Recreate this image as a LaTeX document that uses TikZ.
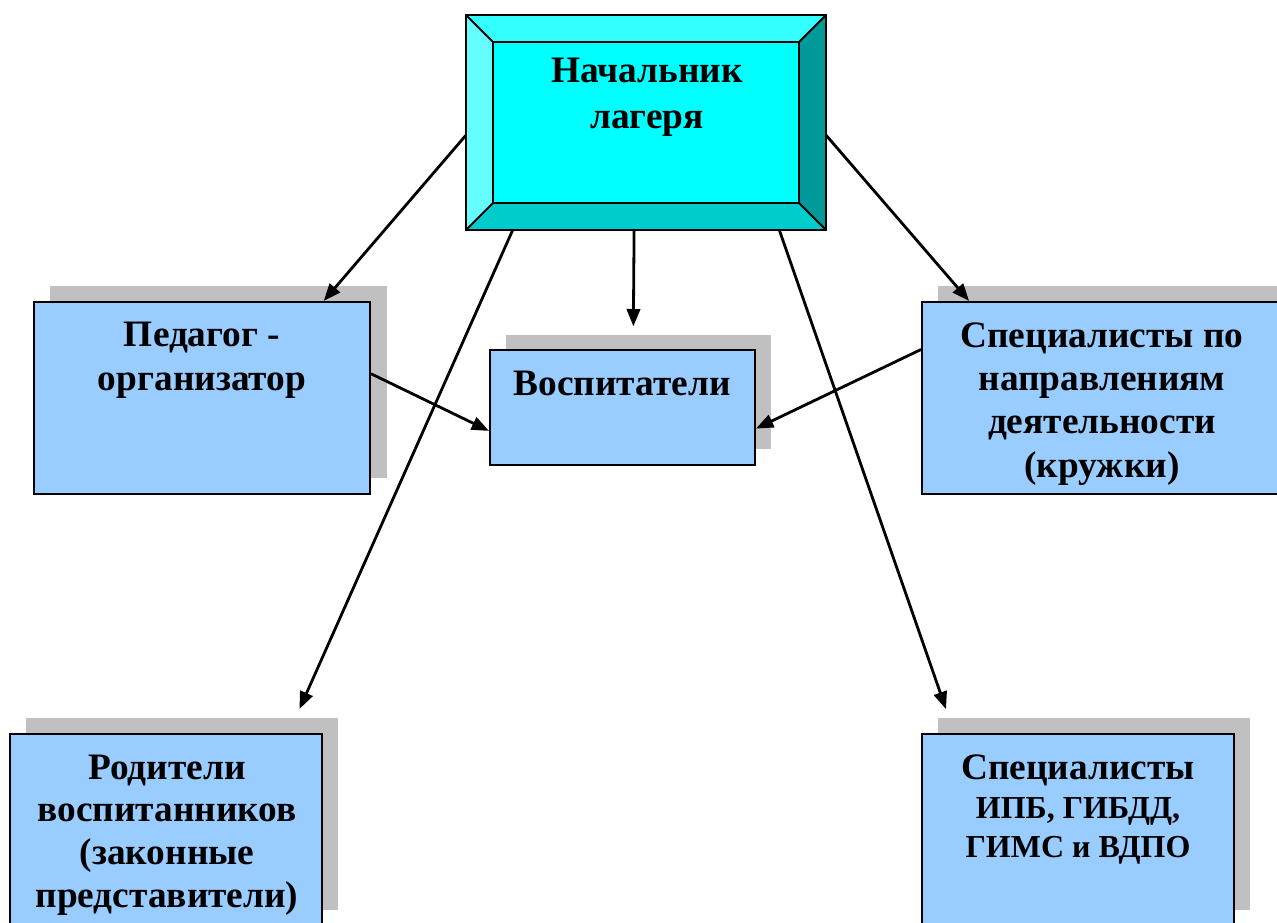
\documentclass[tikz,border=0pt]{standalone}
\usepackage{fontspec}
\setmainfont{Liberation Serif}
\usetikzlibrary{arrows.meta,calc,fit}
\definecolor{cyanin}{HTML}{00FFFF}
\definecolor{bevtop}{HTML}{33FFFF}
\definecolor{bevleft}{HTML}{66FFFF}
\definecolor{bevright}{HTML}{009999}
\definecolor{bevbot}{HTML}{00CCCC}
\definecolor{boxblue}{HTML}{99CCFF}
\definecolor{shadowgray}{HTML}{C0C0C0}
\begin{document}
\begin{tikzpicture}[x=0.75pt,y=-0.75pt,
  box/.style={draw=black,line width=1.5pt,fill=boxblue,inner sep=0pt},
  frame/.style={inner sep=0pt},
  edge/.style={draw=black,line width=1.5pt,line join=miter},
  shade/.style={fill=shadowgray},
  lbl/.style={font=\bfseries\fontsize{28}{32.5}\selectfont,align=center,anchor=base,inner sep=0pt},
  arr/.style={line width=2.1pt,-{Triangle[length=13pt,width=10pt]}}]
\useasboundingbox (0,0) rectangle (1277,923);
\clip (0,0) rectangle (1277,923);
% shadows
\fill[shade] (50,286) rectangle (387,478);
\fill[shade] (506,335) rectangle (771,449);
\fill[shade] (938,286) rectangle (1290,478);
\fill[shade] (26,718) rectangle (338,910);
\fill[shade] (938,718) rectangle (1250,910);
% boxes
\node[box,fit={(34,302) (370,494)}] (ped) {};
\node[box,fit={(490,350) (755,465)}] (vosp) {};
\node[box,fit={(922,302) (1282,494)}] (spec) {};
\node[box,fit={(10,734) (322,935)}] (rod) {};
\node[box,fit={(922,734) (1234,935)}] (gims) {};
% top bevelled box
\node[frame,fit={(466,15) (826,230)}] (top) {};
\node[frame,fit={(493,42) (799,203)}] (topin) {};
\fill[bevtop] (top.north west) -- (top.north east) -- (topin.north east) -- (topin.north west) -- cycle;
\fill[bevleft] (top.north west) -- (topin.north west) -- (topin.south west) -- (top.south west) -- cycle;
\fill[bevright] (top.north east) -- (top.south east) -- (topin.south east) -- (topin.north east) -- cycle;
\fill[bevbot] (top.south west) -- (top.south east) -- (topin.south east) -- (topin.south west) -- cycle;
\fill[cyanin] (topin.north west) rectangle (topin.south east);
\draw[edge] (top.north west) rectangle (top.south east);
\draw[edge] (topin.north west) rectangle (topin.south east);
\draw[edge] (top.north west) -- (topin.north west);
\draw[edge] (top.north east) -- (topin.north east);
\draw[edge] (top.south west) -- (topin.south west);
\draw[edge] (top.south east) -- (topin.south east);
% texts (anchor = baseline of the last line)
\node[lbl,font=\bfseries\fontsize{28}{34.5}\selectfont] (tnach) at (647,129) {Начальник\\лагеря};
\node[lbl] (tped) at (202,390) {Педагог -\\организатор};
\node[lbl] (tvosp) at (622,395) {Воспитатели};
\node[lbl] (tspec) at (1102,477) {Специалисты по\\направлениям\\деятельности\\(кружки)};
\node[lbl,font=\bfseries\fontsize{28}{32}\selectfont] (trod) at (167,907) {Родители\\воспитанников\\(законные\\представители)};
\node[lbl,font=\bfseries\fontsize{28}{29}\selectfont] (tgims) at (1078,857) {Специалисты\\\fontsize{24}{29}\selectfont ИПБ, ГИБДД,\\\fontsize{24}{29}\selectfont ГИМС и ВДПО};
% connectors
\draw[arr] ($(top.north west)!0.56!(top.south west)$) -- ($(ped.north west)!0.86!(ped.north east)$);
\draw[arr] ($(top.north east)!0.56!(top.south east)$) -- ($(spec.north west)!0.133!(spec.north east)$);
\draw[arr,shorten >=17pt] ($(top.south west)!0.467!(top.south east)$) -- ($(vosp.north west)!0.54!(vosp.north east)$);
\draw[arr,shorten >=19.7pt] ($(top.south west)!0.13!(top.south east)$) -- ($(rod.north west)!0.891!(rod.north east)$);
\draw[arr,shorten >=19pt] ($(top.south west)!0.87!(top.south east)$) -- ($(gims.north west)!0.106!(gims.north east)$);
\draw[arr] ($(ped.north east)!0.375!(ped.south east)$) -- ($(vosp.north west)!0.7!(vosp.south west)$);
\draw[arr] ($(spec.north west)!0.25!(spec.south west)$) -- ($(vosp.north east)!0.68!(vosp.south east)$);
\end{tikzpicture}
\end{document}
